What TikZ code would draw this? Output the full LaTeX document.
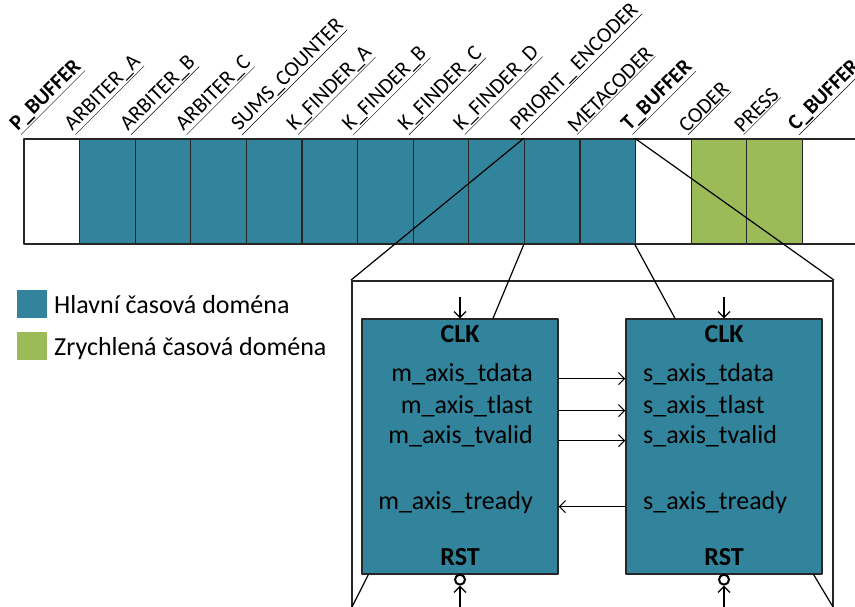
\documentclass[tikz,border=0pt]{standalone}
\usepackage{fontspec}
\setmainfont{Carlito}
\usetikzlibrary{arrows.meta}
\definecolor{hlavni}{HTML}{31849B}
\definecolor{zrychl}{HTML}{9BBB59}
\begin{document}
\begin{tikzpicture}[x=1pt,y=-1pt,line cap=round,line join=round]
  \tikzset{cell/.style={draw=black!85,line width=1.3pt,minimum width=55.6pt,minimum height=105pt,inner sep=0pt},
    blok/.style={draw=black!85,line width=1.3pt,fill=hlavni,minimum width=196pt,minimum height=255pt,inner sep=0pt},
    lbl/.style={rotate=45,anchor=south west,inner sep=0pt,font=\fontsize{21.5}{25}\selectfont},
    lblb/.style={lbl,font=\fontsize{21.5}{25}\selectfont\bfseries},
    sig/.style={inner sep=0pt,font=\fontsize{26}{31}\selectfont},
    sigb/.style={sig,font=\fontsize{26}{31}\selectfont\bfseries},
    sigarrow/.style={-{Straight Barb[length=6pt,width=12pt]},line width=1.2pt},
    contact/.style={circle,draw,line width=2pt,fill=white,inner sep=0pt,minimum size=10pt}}
  \useasboundingbox (0,0) rectangle (855,607);
  \clip (0,0) rectangle (855,607);
  \node[cell,fill=white] (s1) at (51.8,191.5) {}; \node[cell,fill=hlavni] (s2) at (107.4,191.5) {}; \node[cell,fill=hlavni] (s3) at (163.0,191.5) {};
  \node[cell,fill=hlavni] (s4) at (218.6,191.5) {}; \node[cell,fill=hlavni] (s5) at (274.2,191.5) {}; \node[cell,fill=hlavni] (s6) at (329.8,191.5) {};
  \node[cell,fill=hlavni] (s7) at (385.4,191.5) {}; \node[cell,fill=hlavni] (s8) at (441.0,191.5) {}; \node[cell,fill=hlavni] (s9) at (496.6,191.5) {};
  \node[cell,fill=hlavni] (s10) at (552.2,191.5) {}; \node[cell,fill=hlavni] (s11) at (607.8,191.5) {}; \node[cell,fill=white] (s12) at (663.4,191.5) {};
  \node[cell,fill=zrychl] (s13) at (719.0,191.5) {}; \node[cell,fill=zrychl] (s14) at (774.6,191.5) {}; \node[cell,fill=white] (s15) at (830.2,191.5) {};
  \node[lblb] at ([xshift=-2pt,yshift=3pt]s1.north west) {\underline{P\_BUFFER}};
  \node[lbl] at ([xshift=-3pt,yshift=3pt]s2.north west) {\underline{ARBITER\_A}};
  \node[lbl] at ([xshift=-3pt,yshift=3pt]s3.north west) {\underline{ARBITER\_B}};
  \node[lbl] at ([xshift=-3pt,yshift=3pt]s4.north west) {\underline{ARBITER\_C}};
  \node[lbl] at ([xshift=-3pt,yshift=3pt]s5.north west) {\underline{SUMS\_COUNTER}};
  \node[lbl] at ([xshift=-3pt,yshift=3pt]s6.north west) {\underline{K\_FINDER\_A}};
  \node[lbl] at ([xshift=-3pt,yshift=3pt]s7.north west) {\underline{K\_FINDER\_B}};
  \node[lbl] at ([xshift=-3pt,yshift=3pt]s8.north west) {\underline{K\_FINDER\_C}};
  \node[lbl] at ([xshift=-3pt,yshift=3pt]s9.north west) {\underline{K\_FINDER\_D}};
  \node[lbl] at ([xshift=-2pt,yshift=3pt]s10.north west) {\underline{PRIORIT\_ ENCODER}};
  \node[lbl] at ([xshift=-2pt,yshift=3pt]s11.north west) {\underline{METACODER}};
  \node[lblb] at ([xshift=-2pt,yshift=3pt]s12.north west) {\underline{T\_BUFFER}};
  \node[lbl] at ([xshift=-2pt,yshift=3pt]s13.north west) {\underline{CODER}};
  \node[lbl] at ([xshift=-2pt,yshift=3pt]s14.north west) {\underline{PRESS}};
  \node[lblb] at ([xshift=-2pt,yshift=3pt]s15.north west) {\underline{C\_BUFFER}};
  % legenda
  \node[fill=hlavni,minimum width=30pt,minimum height=28pt,inner sep=0pt] (k1) at (32,304) {};
  \node[fill=zrychl,minimum width=30pt,minimum height=28pt,inner sep=0pt] (k2) at (32,346) {};
  \node[sig,anchor=base west] at (54,313) {Hlavní časová doména};
  \node[sig,anchor=base west] at (54,355) {Zrychlená časová doména};
  % detail
  \node[draw=black!85,line width=1.9pt,minimum width=481pt,minimum height=360pt,inner sep=0pt] (fr) at (592.5,461) {};
  \node[blok] (lm) at (460,446.5) {}; \node[blok] (rm) at (724,446.5) {};
  \draw[line width=1.2pt] (s10.north west)--(fr.north west);
  \draw[line width=1.2pt] (s12.north west)--(fr.north east);
  \draw[line width=1.2pt] (s10.south west)--([xshift=33pt]lm.north);
  \draw[line width=1.2pt] (s12.south west)--([xshift=-49pt]rm.north);
  \coordinate (lo1) at (352,607); \coordinate (lo2) at (833,607);
  \draw[line width=1.2pt] ([xshift=7pt]lm.south west)--(lo1);
  \draw[line width=1.2pt] ([xshift=-9pt]rm.south east)--(lo2);
  \node[sigb,anchor=base] at ([yshift=-24pt]lm.north) {CLK}; \node[sigb,anchor=base] at ([yshift=-24pt]rm.north) {CLK};
  \node[sigb,anchor=base] at ([yshift=9pt]lm.south) {RST}; \node[sigb,anchor=base] at ([yshift=9pt]rm.south) {RST};
  \draw[sigarrow] ([yshift=21pt]lm.north)--(lm.north); \draw[sigarrow] ([yshift=21pt]rm.north)--(rm.north);
  \node[contact] (r1) at ([yshift=-5pt]lm.south) {}; \node[contact] (r2) at ([yshift=-5pt]rm.south) {};
  \draw[sigarrow] ([yshift=-30pt]r1.south)--(r1.south); \draw[sigarrow] ([yshift=-30pt]r2.south)--(r2.south);
  \node[sig,anchor=base east] (md) at (533,381) {m\_axis\_tdata};
  \node[sig,anchor=base east] (ml) at (533,413) {m\_axis\_tlast};
  \node[sig,anchor=base east] (mv) at (533,443) {m\_axis\_tvalid};
  \node[sig,anchor=base east] (mr) at (533,509) {m\_axis\_tready};
  \node[sig,anchor=base west] (sd) at (643,381) {s\_axis\_tdata};
  \node[sig,anchor=base west] (sl) at (643,413) {s\_axis\_tlast};
  \node[sig,anchor=base west] (sv) at (643,443) {s\_axis\_tvalid};
  \node[sig,anchor=base west] (sr) at (643,509) {s\_axis\_tready};
  \draw[sigarrow] (lm.east |- md.mid)--(rm.west |- md.mid);
  \draw[sigarrow] (lm.east |- ml.mid)--(rm.west |- ml.mid);
  \draw[sigarrow] (lm.east |- mv.mid)--(rm.west |- mv.mid);
  \draw[sigarrow] (rm.west |- mr.mid)--(lm.east |- mr.mid);
\end{tikzpicture}
\end{document}
